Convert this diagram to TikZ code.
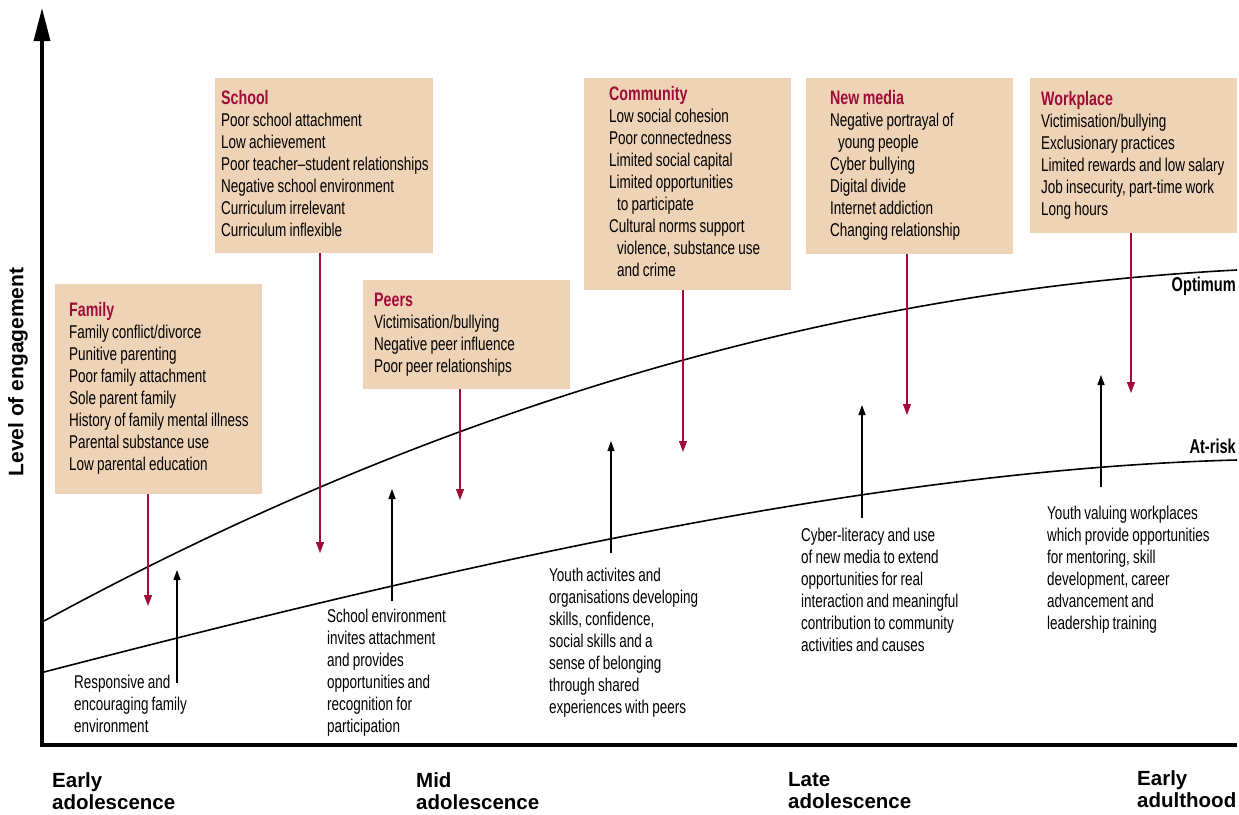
\documentclass[tikz,border=0pt]{standalone}
\usepackage{fontspec}
\usepackage[usenames,dvipsnames,svgnames]{xcolor}
\usepackage{tikz}
\usetikzlibrary{arrows.meta,positioning}
\newfontfamily\condfont{Liberation Sans}[FakeStretch=0.73, WordSpace=0.85]
\newfontfamily\axisfont{Liberation Sans}
\definecolor{boxfill}{RGB}{238,211,182}
\definecolor{riskred}{RGB}{160,12,56}
\newcommand{\boxtitle}[1]{{\fontsize{19.5}{22}\selectfont\bfseries\color{riskred}#1}}
\newcommand{\factors}[2]{\spaceskip=0pt\xspaceskip=0pt\begin{tabular}{@{}l@{}}\boxtitle{#1}\\ #2\end{tabular}}

\begin{document}
\begin{tikzpicture}[x=1pt, y=-1pt,
	riskbox/.style={fill=boxfill, anchor=north west, inner ysep=0pt, align=left, font=\condfont\fontsize{18.5}{22}\selectfont},
	helps/.style={anchor=north west, inner sep=0pt, align=left, font=\condfont\fontsize{18.5}{22}\selectfont},
	stage/.style={anchor=north west, inner sep=0pt, align=left, font=\axisfont\bfseries\fontsize{20.5}{22.5}\selectfont},
	level/.style={anchor=north east, inner sep=0pt, font=\condfont\bfseries\fontsize{20}{22}\selectfont},
	axisline/.style={line width=3.5pt},
	curve/.style={line width=1.6pt},
	riskarrow/.style={riskred, line width=1.3pt, -{Triangle[length=11pt,width=8pt]}},
	helparrow/.style={black, line width=1.3pt, -{Triangle[length=10pt,width=7pt]}}]

	\useasboundingbox (0,0) rectangle (1239,814);

	% axes
	\coordinate (ytop) at (42,8);
	\coordinate (xend) at (1237,745);
	\draw[axisline, {Triangle[length=33pt,width=16pt]}-] (ytop) |- (xend);
	\node[rotate=90, inner sep=0pt, font=\axisfont\bfseries\fontsize{21}{24}\selectfont] (ylab) at (18,372) {Level of engagement};

	\node[stage] (E)  at (52,772)   {Early\\adolescence};
	\node[stage] (M)  at (416,772)  {Mid\\adolescence};
	\node[stage] (L)  at (788,772)  {Late\\adolescence};
	\node[stage] (A)  at (1137,770) {Early\\adulthood};

	% curves
	\coordinate (o0) at (44,621);
	\coordinate (o1) at (1237,270);
	\coordinate (r0) at (44,672);
	\coordinate (r1) at (1237,460);
	\draw[curve] (o0) .. controls (450,400) and (850,290) .. (o1);
	\draw[curve] (r0) .. controls (400,580) and (850,470) .. (r1);
	\node[level] (opt) at (1236,277) {Optimum};
	\node[level] (risk) at (1236,439) {At-risk};

	% risk factor boxes
	\node[riskbox, minimum height=210pt, text width=179pt, inner xsep=14pt] (F) at (55,284)
		{\factors{Family}{Family conflict/divorce\\ Punitive parenting\\ Poor family attachment\\ Sole parent family\\ History of family mental illness\\ Parental substance use\\ Low parental education}};
	\node[riskbox, minimum height=175pt, text width=206pt, inner xsep=6pt] (S) at (215,78)
		{\factors{School}{Poor school attachment\\ Low achievement\\ Poor teacher–student relationships\\ Negative school environment\\ Curriculum irrelevant\\ Curriculum inflexible}};
	\node[riskbox, minimum height=109pt, text width=185pt, inner xsep=11pt] (P) at (363,280)
		{\factors{Peers}{Victimisation/bullying\\ Negative peer influence\\ Poor peer relationships}};
	\node[riskbox, minimum height=212pt, text width=157pt, inner xsep=25pt] (C) at (584,78)
		{\factors{Community}{Low social cohesion\\ Poor connectedness\\ Limited social capital\\ Limited opportunities\\ \hspace{8pt}to participate\\ Cultural norms support\\ \hspace{8pt}violence, substance use\\ \hspace{8pt}and crime}};
	\node[riskbox, minimum height=176pt, text width=159pt, inner xsep=24pt] (N) at (806,78)
		{\factors{New media}{Negative portrayal of\\ \hspace{8pt}young people\\ Cyber bullying\\ Digital divide\\ Internet addiction\\ Changing relationship}};
	\node[riskbox, minimum height=155pt, text width=185pt, inner xsep=11pt] (W) at (1030,78)
		{\factors{Workplace}{Victimisation/bullying\\ Exclusionary practices\\ Limited rewards and low salary\\ Job insecurity, part-time work\\ Long hours}};

	% protective factors
	\node[helps] (f) at (74,675)   {Responsive and\\encouraging family\\environment};
	\node[helps] (s) at (327,609)  {School environment\\invites attachment\\and provides\\opportunities and\\recognition for\\participation};
	\node[helps] (c) at (549,568)  {Youth activites and\\organisations developing\\skills, confidence,\\social skills and a\\sense of belonging\\through shared\\experiences with peers};
	\node[helps] (n) at (801,528)  {Cyber-literacy and use\\of new media to extend\\opportunities for real\\interaction and meaningful\\contribution to community\\activities and causes};
	\node[helps] (w) at (1047,506) {Youth valuing workplaces\\which provide opportunities\\for mentoring, skill\\development, career\\advancement and\\leadership training};

	% arrow ends
	\coordinate (Fe) at (148,606);
	\coordinate (Se) at (320,553);
	\coordinate (Pe) at (460,500);
	\coordinate (Ce) at (683,452);
	\coordinate (Ne) at (907,415);
	\coordinate (We) at (1131,393);
	\path[riskarrow] (F.south -| Fe) edge (Fe)
		(S.south -| Se) edge (Se)
		(P.south -| Pe) edge (Pe)
		(C.south -| Ce) edge (Ce)
		(N.south -| Ne) edge (Ne)
		(W.south -| We) edge (We);

	\coordinate (fa) at (177,683);  \coordinate (fb) at (177,570);
	\coordinate (sa) at (392,601);  \coordinate (sb) at (392,489);
	\coordinate (ca) at (611,553);  \coordinate (cb) at (611,441);
	\coordinate (na) at (862,518);  \coordinate (nb) at (862,405);
	\coordinate (wa) at (1101,487); \coordinate (wb) at (1101,375);
	\path[helparrow] (fa) edge (fb)
		(sa) edge (sb)
		(ca) edge (cb)
		(na) edge (nb)
		(wa) edge (wb);
\end{tikzpicture}
\end{document}
